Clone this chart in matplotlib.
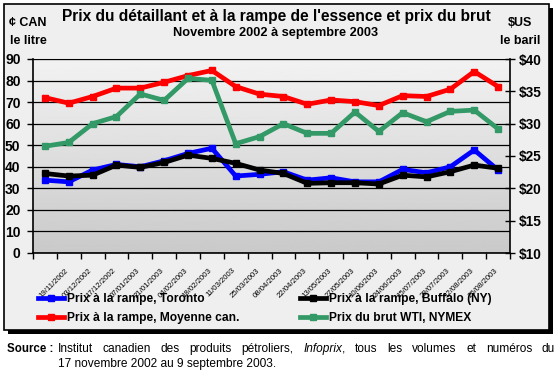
import numpy as np
import matplotlib.pyplot as plt
from matplotlib.patches import Rectangle
from matplotlib.lines import Line2D

plt.rcParams['font.family'] = ['Liberation Sans', 'DejaVu Sans']

# dates (labels sit under points 2..20, first point has no label)
dates = ['19/11/2002', '03/12/2002', '17/12/2002', '07/01/2003', '21/01/2003',
         '04/02/2003', '18/02/2003', '11/03/2003', '25/03/2003', '08/04/2003',
         '22/04/2003', '13/05/2003', '27/05/2003', '10/06/2003', '24/06/2003',
         '15/07/2003', '29/07/2003', '12/08/2003', '26/08/2003']

# cents CAN per litre
toronto = [33.8, 33.0, 38.5, 41.1, 40.0, 42.8, 46.2, 48.6, 35.7, 36.5,
           37.7, 33.8, 34.9, 33.0, 33.0, 38.8, 37.2, 40.0, 47.8, 38.5]
buffalo = [36.9, 35.7, 36.1, 40.8, 39.7, 42.0, 45.4, 43.9, 41.6, 38.5,
           36.9, 32.3, 32.6, 32.6, 32.0, 36.1, 35.3, 37.7, 40.8, 39.3]
moyenne = [72.1, 69.5, 72.6, 76.5, 76.5, 79.2, 82.3, 84.7, 77.2, 73.7,
           72.6, 69.0, 71.0, 70.2, 68.4, 73.0, 72.6, 76.0, 84.2, 77.2]
# $US per barrel
wti = [26.5, 27.1, 30.0, 31.1, 34.6, 33.6, 37.0, 36.7, 26.9, 28.0,
       30.0, 28.5, 28.5, 31.8, 28.8, 31.7, 30.3, 31.9, 32.1, 29.2]

left_ticks = np.arange(0, 100, 10)
right_ticks = np.arange(10, 45, 5)

W, H = 559, 382
fig = plt.figure(figsize=(W / 100, H / 100), dpi=100)

def fx(px):
    return px / W

def fy(py):
    return 1 - py / H

# outer box with shadow
fig.patches.append(Rectangle((fx(8), fy(334)), fx(545), 326 / H, transform=fig.transFigure,
                             facecolor='black', edgecolor='none', zorder=-20))
fig.patches.append(Rectangle((fx(4), fy(330)), fx(545), 326 / H, transform=fig.transFigure,
                             facecolor='#efefef', edgecolor='black', lw=1.2, zorder=-19))

ax = fig.add_axes([fx(33), fy(253), fx(510 - 33), (253 - 59) / H])
ax.set_facecolor('none')
grad = np.linspace(0.95, 0.79, 256).reshape(-1, 1)
ax.imshow(grad, extent=[0, 1, 0, 1], transform=ax.transAxes, aspect='auto',
          cmap='gray', vmin=0, vmax=1, zorder=0)

x = np.arange(len(moyenne))
lw, ms = 3.4, 4.6
ax.plot(x, moyenne, color='#ff0000', lw=lw, marker='s', ms=ms, zorder=3)
ax.plot(x, toronto, color='#0000ff', lw=lw, marker='s', ms=ms, zorder=3)
ax.plot(x, buffalo, color='black', lw=lw, marker='s', ms=ms, zorder=4)

ax.set_xlim(-0.5, len(x) - 0.5)
ax.set_ylim(0, 90)
ax.set_yticks(left_ticks)
ax.set_yticklabels([str(v) for v in left_ticks], fontsize=10, fontweight='bold')
ax.grid(axis='y', color='black', lw=0.9)
ax.set_axisbelow(False)
ax.tick_params(axis='y', direction='out', length=4, width=1, pad=5)
ax.set_xticks(np.arange(-0.5, len(x)), labels=[])
ax.tick_params(axis='x', which='major', direction='out', length=4, width=1)
ax.set_xticks(np.arange(1, len(x)) - 0.15, minor=True)
ax.set_xticklabels(dates, minor=True, rotation=45, ha='right', va='top',
                   rotation_mode='anchor', fontsize=5.6)
ax.tick_params(axis='x', which='minor', length=0, pad=10)
for s in ['left', 'bottom']:
    ax.spines[s].set_linewidth(1.2)
ax.spines['top'].set_color('#888888')
ax.spines['right'].set_visible(False)

ax2 = ax.twinx()
ax2.plot(x, wti, color='#339966', lw=lw, marker='s', ms=ms, zorder=3)
ax2.set_ylim(10, 40)
ax2.set_yticks(right_ticks)
ax2.set_yticklabels(['$%d' % v for v in right_ticks], fontsize=9.8, fontweight='bold')
ax2.tick_params(axis='y', direction='inout', length=7, width=1, pad=3)
ax2.spines['right'].set_linewidth(1.2)
for s in ['left', 'top', 'bottom']:
    ax2.spines[s].set_visible(False)

fig.text(fx(276), fy(17), "Prix du détaillant et à la rampe de l'essence et prix du brut",
         ha='center', va='center', fontsize=11.2, fontweight='bold')
fig.text(fx(276), fy(33), 'Novembre 2002 à septembre 2003',
         ha='center', va='center', fontsize=9.2, fontweight='bold')
fig.text(fx(28), fy(32), '¢ CAN\nle litre', ha='center', va='center', fontsize=9,
         fontweight='bold', linespacing=1.75)
fig.text(fx(520), fy(32), '$US\nle baril', ha='center', va='center', fontsize=9,
         fontweight='bold', linespacing=1.75)

handles = [Line2D([], [], color='#0000ff', lw=lw, marker='s', ms=ms),
           Line2D([], [], color='#ff0000', lw=lw, marker='s', ms=ms),
           Line2D([], [], color='black', lw=lw, marker='s', ms=ms),
           Line2D([], [], color='#339966', lw=lw, marker='s', ms=ms)]
labels = ['Prix à la rampe, Toronto', 'Prix à la rampe, Moyenne can.',
          'Prix à la rampe, Buffalo (NY)', 'Prix du brut WTI, NYMEX']
fig.legend(handles, labels, ncol=2, loc='upper left', bbox_to_anchor=(fx(27), fy(282)),
           frameon=False, numpoints=1, handlelength=2.2, handletextpad=0.25,
           columnspacing=5.0, labelspacing=0.62,
           prop={'size': 8.65, 'weight': 'bold'})

fig.text(fx(7), fy(352), 'Source :', ha='left', va='baseline', fontsize=8.3,
         fontweight='bold')

# justified first line of the source note: each word is a list of (text, style) pieces
words = [[('Institut', 'normal')], [('canadien', 'normal')], [('des', 'normal')],
         [('produits', 'normal')], [('pétroliers,', 'normal')],
         [('Infoprix', 'italic'), (',', 'normal')], [('tous', 'normal')],
         [('les', 'normal')], [('volumes', 'normal')], [('et', 'normal')],
         [('numéros', 'normal')], [('du', 'normal')]]
renderer = fig.canvas.get_renderer()
pieces = []
widths = []
for word in words:
    ts = [fig.text(0, fy(352), s, ha='left', va='baseline', fontsize=8.6, style=st)
          for s, st in word]
    ws = [t.get_window_extent(renderer).width for t in ts]
    pieces.append((ts, ws))
    widths.append(sum(ws))
gap = (555 - 58 - sum(widths)) / (len(words) - 1)
pos = 58
for ts, ws in pieces:
    for t, w in zip(ts, ws):
        t.set_position((fx(pos), fy(352)))
        pos += w
    pos += gap
fig.text(fx(58), fy(367), '17 novembre 2002 au 9 septembre 2003.', ha='left',
         va='baseline', fontsize=8.6)

fig.savefig('out.png', dpi=100)
